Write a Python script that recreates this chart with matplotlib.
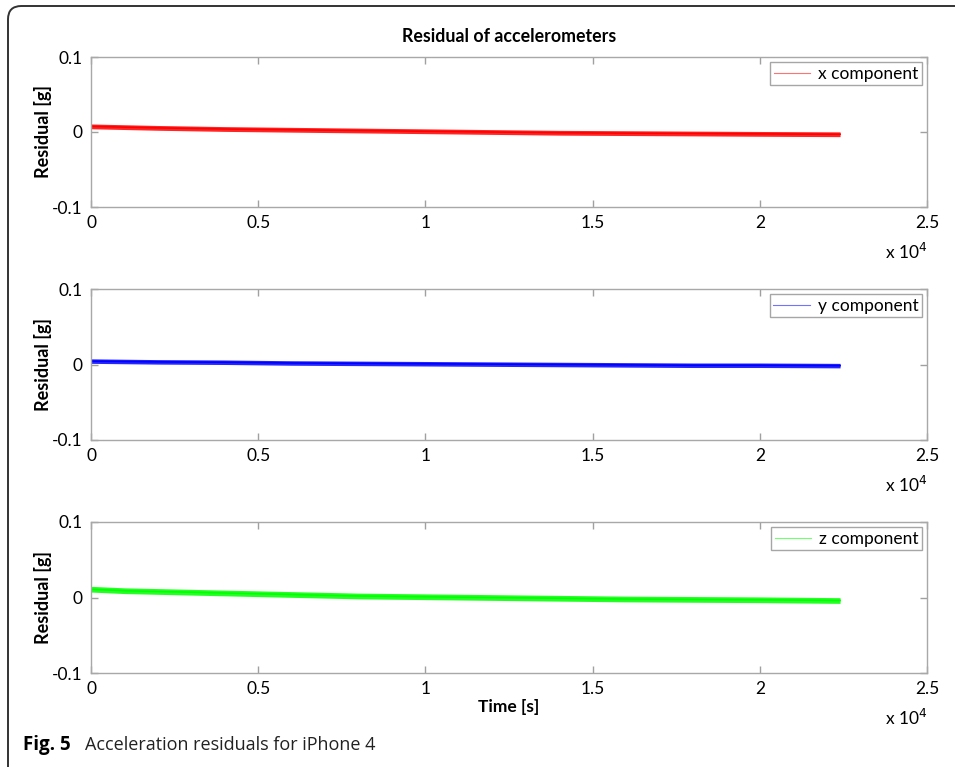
import matplotlib
matplotlib.use("Agg")
import matplotlib.pyplot as plt
from matplotlib.patches import FancyBboxPatch

# tijek reziduala, ocitano sa slike (sredina trake i polovina debljine suma)
time_s = [0, 1000, 2000, 4000, 6000, 8000, 10000, 12000, 14000, 16000, 18000, 20000, 22400]
x_res = [0.0075, 0.0065, 0.0055, 0.004, 0.003, 0.002, 0.001, 0.0, -0.001, -0.0015, -0.002, -0.0025, -0.003]
y_res = [0.0045, 0.004, 0.0035, 0.003, 0.002, 0.0015, 0.001, 0.0005, 0.0, -0.0005, -0.001, -0.001, -0.0015]
z_res = [0.011, 0.009, 0.008, 0.006, 0.004, 0.002, 0.001, 0.0, -0.001, -0.002, -0.0025, -0.003, -0.004]
spread = [0.0032, 0.003, 0.0038]

labels = ["x component", "y component", "z component"]
colors = ["#ff0000", "#0000ff", "#00ff00"]
xticks = [0, 5000, 10000, 15000, 20000, 25000]
xticklabels = ["0", "0.5", "1", "1.5", "2", "2.5"]
yticks = [-0.1, 0, 0.1]
yticklabels = ["-0.1", "0", "0.1"]

plt.rcParams['font.family'] = ['Lato', 'DejaVu Sans']

W, H = 955, 767
fig = plt.figure(figsize=(W / 100, H / 100), dpi=100)

# okvir oko slike
frame = FancyBboxPatch((8 / W, -0.02), 1.1, (H - 6) / H + 0.02,
                       boxstyle="round,pad=0,rounding_size=0.014",
                       transform=fig.transFigure, fill=False,
                       edgecolor="#333333", linewidth=1.4,
                       mutation_aspect=W / H)
fig.patches.append(frame)

# pozicije osi u pikselima (vrh, dno)
rows = [(57, 207), (289, 440), (522, 673)]
series = [x_res, y_res, z_res]

for i, (top, bot) in enumerate(rows):
    ax = fig.add_axes([91 / W, 1 - bot / H, 836 / W, (bot - top) / H])
    vals = series[i]
    lo = [v - spread[i] for v in vals]
    hi = [v + spread[i] for v in vals]
    ax.fill_between(time_s, lo, hi, color=colors[i], linewidth=0, alpha=0.85)
    ax.plot(time_s, vals, color=colors[i], linewidth=1.2, label=labels[i])

    ax.set_xlim(0, 25000)
    ax.set_ylim(-0.1, 0.1)
    ax.set_xticks(xticks)
    ax.set_xticklabels(xticklabels)
    ax.set_yticks(yticks)
    ax.set_yticklabels(yticklabels)
    ax.tick_params(direction="in", length=5, width=1, color="#a0a0a0",
                   top=True, right=True, labelsize=12.5, pad=6)
    for s in ax.spines.values():
        s.set_color("#a8a8a8")
        s.set_linewidth(1)
    ax.set_ylabel("Residual [g]", fontsize=13, fontweight="bold", labelpad=0)
    ax.text(1.0, -0.3, r"x 10$^{4}$", transform=ax.transAxes, ha="right",
            va="center", fontsize=12.5)

    leg = ax.legend(loc="upper right", fancybox=False, fontsize=12.5,
                    handlelength=2.1, borderaxespad=0.3, borderpad=0.2,
                    handletextpad=0.45)
    leg.get_frame().set_edgecolor("#909090")
    leg.get_frame().set_linewidth(1)
    for ln in leg.get_lines():
        ln.set_linewidth(0.8)
        ln.set_alpha(0.55)

    if i == 0:
        ax.set_title("Residual of accelerometers", fontsize=12.8, fontweight="bold", pad=11)
    if i == 2:
        ax.set_xlabel("Time [s]", fontsize=12.5, fontweight="bold", labelpad=1)

# potpis slike
fig.text(23 / W, 1 - 745 / H, "Fig. 5", fontsize=13.5, fontweight="bold",
         family="Open Sans", va="center")
fig.text(85 / W, 1 - 745 / H, "Acceleration residuals for iPhone 4", fontsize=13,
         family="Open Sans", va="center", color="#222222")

fig.savefig("out.png", dpi=100)
